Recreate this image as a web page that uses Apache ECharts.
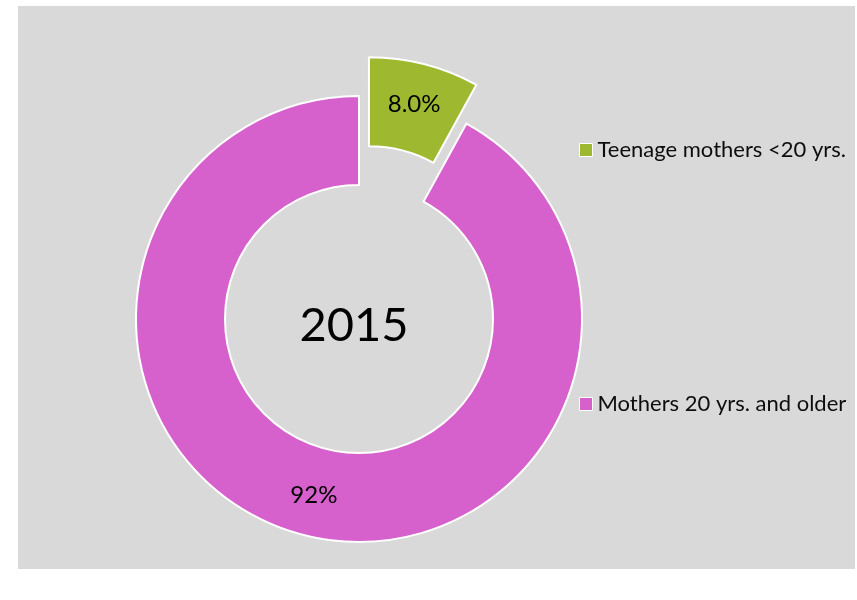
<!DOCTYPE html>
<html>
<head>
<meta charset="utf-8">
<script src="https://cdn.jsdelivr.net/npm/echarts@6/dist/echarts.min.js"></script>
<style>
html,body{margin:0;padding:0;background:#fff;}
#chart{width:857px;height:600px;}
</style>
</head>
<body>
<div id="chart"></div>
<script>
var categories = ['Teenage mothers <20 yrs.', 'Mothers 20 yrs. and older'];
var values = [8.0, 92.0];
var valueLabels = ['8.0%', '92%'];
var colors = ['#9EB930', '#D660CC'];
var centerText = '2015';

var chart = echarts.init(document.getElementById('chart'), null, {renderer: 'canvas'});
var FONT = 'Lato, "Open Sans", sans-serif';

var data = categories.map(function (c, i) {
  return {
    name: c,
    value: values[i],
    selected: i === 0,
    itemStyle: {color: colors[i]},
    label: {formatter: valueLabels[i]}
  };
});

function legendFor(i, top) {
  return {
    data: [categories[i]],
    orient: 'vertical',
    left: 574,
    top: top,
    icon: 'rect',
    itemWidth: 13,
    itemHeight: 13,
    selectedMode: false,
    itemStyle: {borderColor: '#ffffff', borderWidth: 1},
    textStyle: {fontFamily: FONT, fontSize: 22, color: '#0D0D0D'}
  };
}

chart.setOption({
  animation: false,
  graphic: [
    {type: 'rect', z: -10, silent: true, shape: {x: 18, y: 6, width: 837, height: 563}, style: {fill: '#D9D9D9'}},
    {type: 'text', z: 10, silent: true, x: 354, y: 326,
     style: {text: centerText, fontFamily: FONT, fontSize: 47, fill: '#000000', align: 'center', verticalAlign: 'middle'}}
  ],
  legend: [legendFor(0, 134), legendFor(1, 388)],
  series: [{
    type: 'pie',
    center: [359, 319],
    radius: [134, 223],
    startAngle: 90,
    clockwise: true,
    selectedMode: 'single',
    selectedOffset: 40,
    avoidLabelOverlap: false,
    emphasis: {disabled: true, scale: false},
    itemStyle: {borderColor: '#ffffff', borderWidth: 2},
    label: {show: true, position: 'inside', fontFamily: FONT, fontSize: 24, color: '#000000'},
    labelLine: {show: false},
    data: data
  }]
});
</script>
</body>
</html>
